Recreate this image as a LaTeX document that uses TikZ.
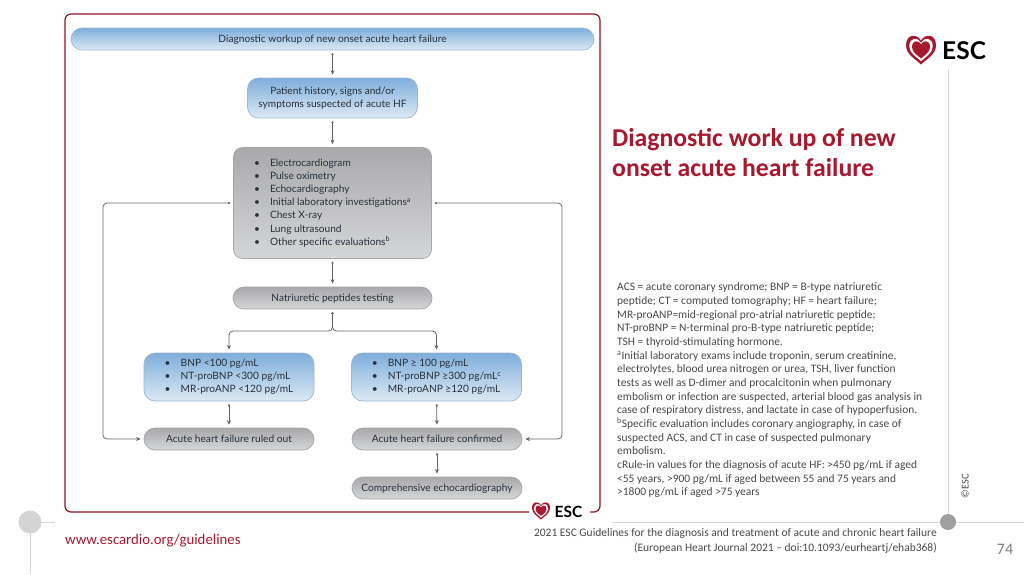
\documentclass[tikz,border=0pt]{standalone}
\usepackage{fontspec}
\setmainfont{Lato}
\newfontfamily\slidefont{Carlito}
\usetikzlibrary{arrows.meta}

\definecolor{escred}{HTML}{A6192E}
\definecolor{inktext}{HTML}{27313B}
\definecolor{notegray}{HTML}{4A4A4A}
\definecolor{linegray}{HTML}{666666}
\definecolor{railgray}{HTML}{D4D4D4}
\definecolor{bluetop}{HTML}{7FAEDC}
\definecolor{bluebot}{HTML}{DCE9F4}
\definecolor{blueline}{HTML}{9DB8CF}
\definecolor{graytop}{HTML}{A9A9AB}
\definecolor{graybot}{HTML}{D5D6D8}
\definecolor{grayline}{HTML}{A6A7A9}

% one bullet line of a box
\newcommand{\itm}[2][16pt]{\makebox[#1][l]{\textbullet}#2}

\tikzset{
    escheart/.pic={
        \fill[escred] (0,-9) .. controls (4,-16) and (15,-16) .. (15,-4) .. controls (15,5) and (5,10) .. (0,15) .. controls (-5,10) and (-15,5) .. (-15,-4) .. controls (-15,-16) and (-4,-16) .. (0,-9);
        \fill[white, scale=0.78] (0,-9) .. controls (4,-16) and (15,-16) .. (15,-4) .. controls (15,5) and (5,10) .. (0,15) .. controls (-5,10) and (-15,5) .. (-15,-4) .. controls (-15,-16) and (-4,-16) .. (0,-9);
        \fill[escred, scale=0.6] (0,-9) .. controls (4,-16) and (15,-16) .. (15,-4) .. controls (15,5) and (5,10) .. (0,15) .. controls (-5,10) and (-15,5) .. (-15,-4) .. controls (-15,-16) and (-4,-16) .. (0,-9);
    }
}

\begin{document}
\begin{tikzpicture}[
    x=1pt, y=-1pt,
    box/.style={draw, line width=0.7pt, inner sep=0pt, align=center, text=inktext, font=\fontsize{10.15}{13.1}\selectfont},
    bluebox/.style={box, draw=blueline, top color=bluetop, bottom color=bluebot},
    graybox/.style={box, draw=grayline, top color=graytop, bottom color=graybot},
    pill/.style={rounded corners=11pt, minimum height=22pt, text height=8.5pt, text depth=1.5pt},
    arrow/.style={{Circle[length=2pt]}-{Stealth[length=4.5pt, width=4pt]}, draw=linegray, line width=0.8pt, rounded corners=4pt, shorten <=3pt, shorten >=3pt},
    rail/.style={draw=railgray, line width=1pt},
    note/.style={anchor=north west, inner sep=0pt, align=left, text=notegray, font=\slidefont\fontsize{11.45}{13.67}\selectfont}
]
\useasboundingbox (0,0) rectangle (1024,574);
\fill[white] (0,0) rectangle (1024,574);

% slide rails
\draw[rail] (948,69) -- (948,522);
\draw[rail] (612,522) -- (1024,522);
\draw[rail] (30,522) -- (30,574);
\draw[rail] (30,522) -- (55,522);
\fill[gray!75] (948,522) circle (8);
\fill[railgray] (30,522) circle (11.5);

% red frame with gap for the logo
\draw[escred!85!black, line width=1.2pt, rounded corners=6pt] (529,512) -- (65,512) -- (65,14) -- (600,14) -- (600,512) -- (590,512);

% boxes
\node[bluebox, pill, minimum width=523pt] (title) at (332.5,39) {Diagnostic workup of new onset acute heart failure};
\node[bluebox, rounded corners=11pt, minimum width=170pt, minimum height=40pt] (patient) at (332.5,98) {Patient history, signs and/or\\symptoms suspected of acute HF};
\node[graybox, align=left, rounded corners=9pt, minimum width=198pt, minimum height=111pt] (exams) at (332.5,203) {%
    \itm{Electrocardiogram}\\
    \itm{Pulse oximetry}\\
    \itm{Echocardiography}\\
    \itm{Initial laboratory investigations\textsuperscript{a}}\\
    \itm{Chest X-ray}\\
    \itm{Lung ultrasound}\\
    \itm{Other specific evaluations\textsuperscript{b}}};
\node[graybox, pill, minimum width=199pt] (testing) at (332.5,298) {Natriuretic peptides testing};
\node[bluebox, align=left, rounded corners=11pt, minimum width=170pt, minimum height=48pt] (lowbox) at (229,377) {%
    \itm{BNP <100 pg/mL}\\
    \itm{NT-proBNP <300 pg/mL}\\
    \itm{MR-proANP <120 pg/mL}};
\node[bluebox, align=left, rounded corners=11pt, minimum width=170pt, minimum height=48pt] (highbox) at (436.5,377) {%
    \itm{BNP ≥ 100 pg/mL}\\
    \itm{NT-proBNP ≥300 pg/mL\textsuperscript{c}}\\
    \itm{MR-proANP ≥120 pg/mL}};
\node[graybox, pill, minimum width=170pt] (ruledout) at (229,439) {Acute heart failure ruled out};
\node[graybox, pill, minimum width=170pt] (confirmed) at (437,439) {Acute heart failure confirmed};
\node[graybox, pill, minimum width=170pt] (echo) at (437,488) {Comprehensive echocardiography};

% connectors
\coordinate (split) at (332.5,331);
\coordinate (leftbus) at (103,320);
\coordinate (rightbus) at (562,320);
\draw[arrow] (title) -- (patient);
\draw[arrow] (patient) -- (exams);
\draw[arrow] (exams) -- (testing);
\draw[arrow] (testing.south) -- (split) -| (lowbox.north);
\draw[arrow] (testing.south) -- (split) -| (highbox.north);
\draw[arrow] (lowbox) -- (ruledout);
\draw[arrow] (highbox) -- (confirmed);
\draw[arrow] (confirmed) -- (echo);
\draw[arrow] (exams.west) -| (leftbus) |- (ruledout.west);
\draw[arrow] (exams.east) -| (rightbus) |- (confirmed.east);

% logos
\pic at (921,49.5) {escheart};
\node[inner sep=0pt, anchor=west, font=\bfseries\fontsize{24.5}{25}\selectfont] (esctop) at (942,51) {ESC};
\pic[scale=0.6] at (541,510.5) {escheart};
\node[inner sep=0pt, anchor=west, font=\bfseries\fontsize{15.5}{15}\selectfont] (escbottom) at (554.5,511.5) {ESC};

% slide texts
\node[anchor=west, inner sep=0pt, align=left, text=escred, font=\slidefont\bfseries\fontsize{25.7}{30}\selectfont] (heading) at (612,153) {Diagnostic work up of new\\onset acute heart failure};
\node[note] (abbrev) at (617,282.5) {%
ACS = acute coronary syndrome; BNP = B-type natriuretic\\
peptide; CT = computed tomography; HF = heart failure;\\
MR-proANP=mid-regional pro-atrial natriuretic peptide;\\
NT-proBNP = N-terminal pro-B-type natriuretic peptide;\\
TSH = thyroid-stimulating hormone.\\
\textsuperscript{a}Initial laboratory exams include troponin, serum creatinine,\\
electrolytes, blood urea nitrogen or urea, TSH, liver function\\
tests as well as D-dimer and procalcitonin when pulmonary\\
embolism or infection are suspected, arterial blood gas analysis in\\
case of respiratory distress, and lactate in case of hypoperfusion.\\
\textsuperscript{b}Specific evaluation includes coronary angiography, in case of\\
suspected ACS, and CT in case of suspected pulmonary\\
embolism.\\
cRule-in values for the diagnosis of acute HF: >450 pg/mL if aged\\
<55 years, >900 pg/mL if aged between 55 and 75 years and\\
>1800 pg/mL if aged >75 years};
\node[rotate=90, inner sep=0pt, text=notegray, font=\slidefont\fontsize{10.5}{10.5}\selectfont] (copyright) at (965,486) {©ESC};
\node[anchor=west, inner sep=0pt, text=escred, font=\slidefont\fontsize{14.8}{14.8}\selectfont] (website) at (65,541) {www.escardio.org/guidelines};
\node[anchor=east, inner sep=0pt, align=right, text=notegray, font=\slidefont\fontsize{11.5}{15}\selectfont] (citation) at (937,541) {2021 ESC Guidelines for the diagnosis and treatment of acute and chronic heart failure\\(European Heart Journal 2021 – doi:10.1093/eurheartj/ehab368)};
\node[inner sep=0pt, text=gray, font=\slidefont\fontsize{16}{16}\selectfont] (pagenum) at (1005,549) {74};

\end{tikzpicture}
\end{document}
